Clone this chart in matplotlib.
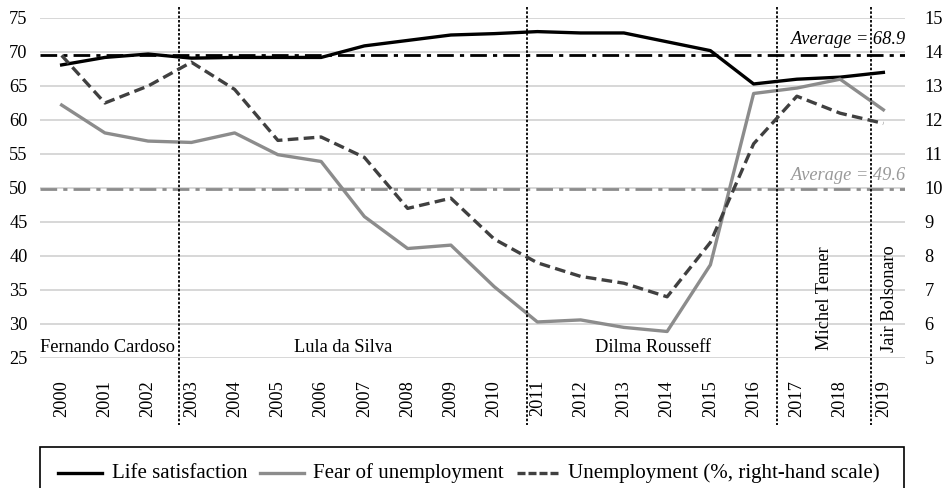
import matplotlib.pyplot as plt
from matplotlib.lines import Line2D
from matplotlib.patches import Rectangle
from matplotlib.transforms import blended_transform_factory

# ── data ─────────────────────────────────────────────────────────────────────
years = list(range(2000, 2020))

life_satisfaction = [68.1, 69.2, 69.7, 69.1, 69.2, 69.2, 69.2, 70.9, 71.7, 72.5,
                     72.7, 73.0, 72.8, 72.8, 71.5, 70.2, 65.3, 66.0, 66.3, 67.0]
fear_unemployment = [62.2, 58.1, 56.9, 56.7, 58.1, 54.9, 53.9, 45.8, 41.1, 41.6,
                     35.5, 30.3, 30.6, 29.5, 28.9, 38.7, 63.9, 64.7, 66.0, 61.5]
unemployment_rate = [13.9, 12.5, 13.0, 13.7, 12.9, 11.4, 11.5, 10.9, 9.4, 9.7,
                     8.5, 7.8, 7.4, 7.2, 6.8, 8.4, 11.3, 12.7, 12.2, 11.9]

avg_ls_level = 69.5      # where the dash-dot line sits in the picture
avg_fear_level = 49.8
avg_ls_label = "Average = 68.9"
avg_fear_label = "Average = 49.6"

# presidencies: boundaries (category index) and labels
term_breaks = [2.72, 10.75, 16.55, 18.72]
presidents = ["Fernando Cardoso", "Lula da Silva", "Dilma Rousseff",
              "Michel Temer", "Jair Bolsonaro"]

left_ticks = list(range(25, 80, 5))
right_ticks = list(range(5, 16))

series_names = ["Life satisfaction", "Fear of unemployment",
                "Unemployment (%, right-hand scale)"]

# ── style ────────────────────────────────────────────────────────────────────
plt.rcParams["font.family"] = ["Liberation Serif", "DejaVu Serif"]
FS = 13.2
FS_LEG = 15.0
BLACK = "#000000"
GREY = "#8c8c8c"
DARK = "#404040"
GRID = "#d4d4d4"
W, H = 951, 488

fig = plt.figure(figsize=(W / 100, H / 100), dpi=100)
ax = fig.add_axes([40 / W, 1 - 358 / H, 865 / W, 340 / H])
ax2 = ax.twinx()

x = list(range(len(years)))

ax.set_xlim(-0.5, len(years) - 0.5)
ax.set_ylim(25, 75)
ax2.set_ylim(5, 15)

ax.set_yticks(left_ticks)
ax2.set_yticks(right_ticks)
ax.set_xticks(x)
ax.set_xticklabels([str(y) for y in years], rotation=90, va="top")

ax.grid(axis="y", color=GRID, linewidth=1.3)
ax.set_axisbelow(True)
for a in (ax, ax2):
    for s in a.spines.values():
        s.set_visible(False)
ax.tick_params(axis="x", length=0, pad=16, labelsize=FS)
ax.tick_params(axis="y", length=0, pad=9, labelsize=FS)
ax2.tick_params(axis="y", length=0, pad=14, labelsize=FS)

# averages
DASHDOT = (6, 2.2, 1.5, 2.2)
ax.axhline(avg_ls_level, color=BLACK, linewidth=2.0, dashes=DASHDOT, zorder=2)
ax.axhline(avg_fear_level, color=GREY, linewidth=2.0, dashes=DASHDOT, zorder=2)
ax.text(19.5, 71.9, avg_ls_label, ha="right", va="center", fontsize=FS,
        style="italic", color=BLACK)
ax.text(19.5, 51.9, avg_fear_label, ha="right", va="center", fontsize=FS,
        style="italic", color="#999999")

# series
ax.plot(x, life_satisfaction, color=BLACK, linewidth=2.4, zorder=4)
ax.plot(x, fear_unemployment, color=GREY, linewidth=2.4, zorder=4)
ax2.plot(x, unemployment_rate, color=DARK, linewidth=2.4, dashes=(3.2, 1.6), zorder=4)

# presidency boundaries: run from the top of the figure down through the tick labels
trans = blended_transform_factory(ax.transData, fig.transFigure)
for b in term_breaks:
    ax.plot([b, b], [1 - 7 / H, 1 - 425 / H], color=BLACK, linewidth=1.3,
            dashes=(1.4, 1.0), transform=trans, clip_on=False, zorder=5)

ax.text(1.05, 26.6, presidents[0], ha="center", va="center", fontsize=FS)
ax.text(6.5, 26.6, presidents[1], ha="center", va="center", fontsize=FS)
ax.text(13.67, 26.6, presidents[2], ha="center", va="center", fontsize=FS)
ax.text(17.64, 33.8, presidents[3], ha="center", va="center", fontsize=FS, rotation=90)
ax.text(19.15, 33.8, presidents[4], ha="center", va="center", fontsize=FS, rotation=90)

# ── legend (boxed strip under the plot, lower edge runs off the image) ──────
fig.add_artist(Rectangle((40 / W, -0.05), 864 / W, 0.05 + 1 - 447 / H,
                         transform=fig.transFigure, fill=False,
                         edgecolor=BLACK, linewidth=1.2))
leg_y = 1 - 473 / H
leg_items = [  # handle start, handle end, text start (pixels)
    (58, 102, 112, dict(color=BLACK)),
    (260, 304, 313, dict(color=GREY)),
    (517, 560, 568, dict(color=DARK, dashes=(2.4, 0.9))),
]
for name, (h0, h1, t0, kw) in zip(series_names, leg_items):
    fig.add_artist(Line2D([h0 / W, h1 / W], [leg_y, leg_y], linewidth=2.4,
                          transform=fig.transFigure, **kw))
    fig.text(t0 / W, leg_y, name, ha="left", va="center", fontsize=FS_LEG)

fig.savefig("out.png", dpi=100)
